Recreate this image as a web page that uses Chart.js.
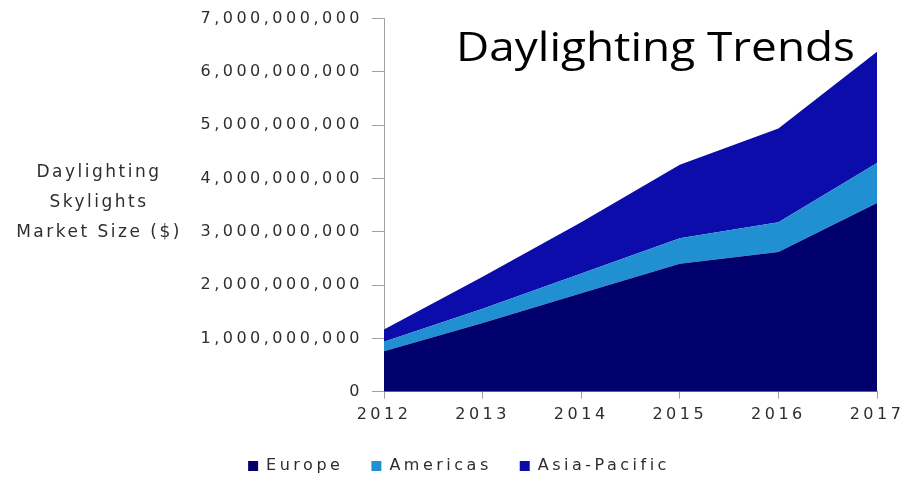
<!DOCTYPE html>
<html>
<head>
<meta charset="utf-8">
<title>Daylighting Trends</title>
<script src="https://cdn.jsdelivr.net/npm/chart.js@4/dist/chart.umd.min.js"></script>
<style>
  html, body { margin: 0; padding: 0; background: #ffffff; }
  #wrap { width: 907px; height: 486px; position: relative; }
</style>
</head>
<body>
<div id="wrap"><canvas id="chart" width="907" height="486"></canvas></div>
<script>
// Market size of daylighting skylights by region, US dollars (stacked)
const years = ['2012', '2013', '2014', '2015', '2016', '2017'];
const europe      = [760000000, 1290000000, 1850000000, 2400000000, 2620000000, 3540000000];
const americas    = [180000000,  270000000,  370000000,  480000000,  560000000,  750000000];
const asiaPacific = [230000000,  600000000,  960000000, 1380000000, 1760000000, 2090000000];

const seriesNames = ['Europe', 'Americas', 'Asia-Pacific'];
const chartTitle = 'Daylighting Trends';
const axisTitleLines = ['Daylighting', 'Skylights', 'Market Size ($)'];

const colors = {
  europe: '#00006c',
  americas: '#2190d2',
  asiaPacific: '#0c0caa',
  axis: '#a0a0a0',
  text: '#2e2e2e'
};

const TEXT_SPACING = '3.5px';
const TEXT_FONT = { family: '"DejaVu Sans"', size: 16 };

// Wide tracking for the axis and legend text
const trackingPlugin = {
  id: 'tracking',
  beforeUpdate(chart) { chart.ctx.letterSpacing = TEXT_SPACING; },
  beforeLayout(chart) { chart.ctx.letterSpacing = TEXT_SPACING; },
  beforeDraw(chart) { chart.ctx.letterSpacing = TEXT_SPACING; }
};

// Chart heading and the stacked left-hand axis caption
const captionPlugin = {
  id: 'captions',
  afterDraw(chart) {
    const ctx = chart.ctx;
    ctx.save();
    ctx.letterSpacing = '2.5px';
    ctx.fillStyle = colors.text;
    ctx.font = '17px "DejaVu Sans"';
    ctx.textAlign = 'center';
    ctx.textBaseline = 'middle';
    const ys = [173, 203, 233];
    axisTitleLines.forEach((line, i) => ctx.fillText(line, 99, ys[i]));
    ctx.restore();

    // heading, set wide to span from 456 to 855
    ctx.save();
    ctx.letterSpacing = '0px';
    ctx.fillStyle = '#000000';
    ctx.font = '40px "Open Sans"';
    ctx.textAlign = 'left';
    ctx.textBaseline = 'alphabetic';
    const w = ctx.measureText(chartTitle).width;
    const sx = 399 / w;
    ctx.translate(456, 61);
    ctx.scale(sx, 1);
    ctx.fillText(chartTitle, 0, 0);
    ctx.restore();
  }
};

const areaStyle = (color, fill) => ({
  backgroundColor: color,
  borderColor: color,
  borderWidth: 0,
  pointRadius: 0,
  pointHoverRadius: 0,
  tension: 0,
  fill: fill
});

new Chart(document.getElementById('chart'), {
  type: 'line',
  data: {
    labels: years,
    datasets: [
      Object.assign({ label: seriesNames[0], data: europe }, areaStyle(colors.europe, 'origin')),
      Object.assign({ label: seriesNames[1], data: americas }, areaStyle(colors.americas, '-1')),
      Object.assign({ label: seriesNames[2], data: asiaPacific }, areaStyle(colors.asiaPacific, '-1'))
    ]
  },
  options: {
    responsive: false,
    animation: false,
    events: [],
    layout: { padding: { left: 41, right: 30, top: 17, bottom: 2 } },
    plugins: {
      title: { display: false },
      tooltip: { enabled: false },
      legend: {
        display: true,
        position: 'bottom',
        labels: {
          boxWidth: 10,
          boxHeight: 10,
          padding: 28,
          color: colors.text,
          font: TEXT_FONT
        }
      }
    },
    scales: {
      x: {
        offset: false,
        grid: {
          display: true,
          drawOnChartArea: false,
          drawTicks: true,
          tickLength: 7,
          color: colors.axis
        },
        border: { display: true, color: colors.axis, width: 1 },
        ticks: {
          color: colors.text,
          padding: 6,
          maxRotation: 0,
          font: TEXT_FONT
        },
        afterFit(scale) {
          // the last year label may run into the right margin
          scale.paddingRight = 0;
        }
      },
      y: {
        stacked: true,
        min: 0,
        max: 7000000000,
        grid: {
          display: true,
          drawOnChartArea: false,
          drawTicks: true,
          tickLength: 12,
          color: colors.axis
        },
        border: { display: true, color: colors.axis, width: 1 },
        ticks: {
          stepSize: 1000000000,
          color: colors.text,
          padding: 9,
          font: TEXT_FONT,
          callback: (value) => Number(value).toLocaleString('en-US')
        },
        afterFit(scale) { scale.width = 343; }
      }
    }
  },
  plugins: [trackingPlugin, captionPlugin]
});
</script>
</body>
</html>
